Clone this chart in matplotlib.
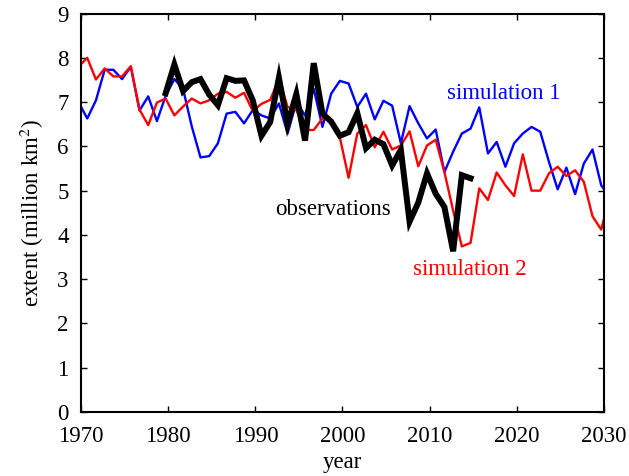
"""September sea-ice extent: two model runs against the satellite record."""
import numpy as np
import matplotlib
matplotlib.use("Agg")
import matplotlib.pyplot as plt

plt.rcParams["font.family"] = ["Liberation Serif", "DejaVu Serif"]
plt.rcParams["mathtext.fontset"] = "stix"

# September values, placed at year + 0.7 on the time axis
SEPT = 0.7

sim_years = np.arange(1969, 2031)
sim1 = [7.00, 6.63, 7.04, 7.73, 7.73, 7.52, 7.80, 6.81, 7.13, 6.57,
        7.14, 7.52, 7.30, 6.45, 5.75, 5.78, 6.07, 6.74, 6.78, 6.52,
        6.82, 6.70, 6.63, 6.97, 6.29, 7.00, 6.70, 7.30, 6.44, 7.19,
        7.48, 7.42, 6.89, 7.19, 6.61, 7.03, 6.92, 6.07, 6.91, 6.52,
        6.18, 6.38, 5.42, 5.88, 6.29, 6.40, 6.88, 5.84, 6.10, 5.54,
        6.07, 6.29, 6.44, 6.33, 5.65, 5.03, 5.52, 4.92, 5.61, 5.93,
        5.12, 4.85]
sim2 = [7.80, 8.00, 7.51, 7.76, 7.58, 7.58, 7.81, 6.83, 6.48, 6.99,
        7.08, 6.70, 6.90, 7.08, 6.97, 7.04, 7.19, 7.23, 7.10, 7.21,
        6.80, 6.96, 7.05, 7.52, 6.89, 6.82, 6.37, 6.37, 6.63, 6.61,
        6.20, 5.29, 6.29, 6.48, 5.98, 6.33, 5.93, 6.02, 6.34, 5.55,
        6.02, 6.15, 5.42, 4.55, 3.74, 3.82, 5.05, 4.79, 5.41, 5.12,
        4.88, 5.82, 5.00, 5.00, 5.39, 5.54, 5.33, 5.46, 5.20, 4.42,
        4.12, 4.90]

obs_years = np.arange(1979, 2015)
obs = [7.20, 7.85, 7.25, 7.45, 7.52, 7.17, 6.93, 7.54, 7.48, 7.49,
       7.04, 6.24, 6.55, 7.55, 6.50, 7.18, 6.13, 7.88, 6.74, 6.56,
       6.24, 6.32, 6.75, 5.96, 6.15, 6.05, 5.57, 5.92, 4.30, 4.73,
       5.39, 4.93, 4.63, 3.63, 5.35, 5.28]

FS = 16.5

fig = plt.figure(figsize=(6.29, 4.76), dpi=100)
ax = fig.add_axes([0.129, 0.1345, 0.831, 0.837])

ax.plot(sim_years + SEPT, sim1, color="#0000ff", lw=1.7)
ax.plot(sim_years + SEPT, sim2, color="#ff0000", lw=1.7)
ax.plot(obs_years + SEPT, obs, color="black", lw=4.3, solid_joinstyle="miter")

ax.text(2012.0, 7.07, "simulation 1", color="#0000ff", fontsize=FS)
ax.text(1992.25, 4.45, "observations", color="black", fontsize=FS)
ax.text(2008.1, 3.09, "simulation 2", color="#ff0000", fontsize=FS)

ax.set_xlim(1970, 2030)
ax.set_ylim(0, 9)
ax.set_xticks(np.arange(1970, 2031, 10))
ax.set_yticks(np.arange(0, 10, 1))
ax.tick_params(direction="in", length=4, width=1, top=True, right=True,
               labelsize=FS)
ax.tick_params(axis="x", pad=10)
ax.tick_params(axis="y", pad=9)
for sp in ax.spines.values():
    sp.set_linewidth(1.5)

ax.set_xlabel("year", fontsize=FS, labelpad=4)
ax.set_ylabel("extent (million km$^2$)", fontsize=FS, labelpad=8)

fig.savefig("out.png", dpi=100)
